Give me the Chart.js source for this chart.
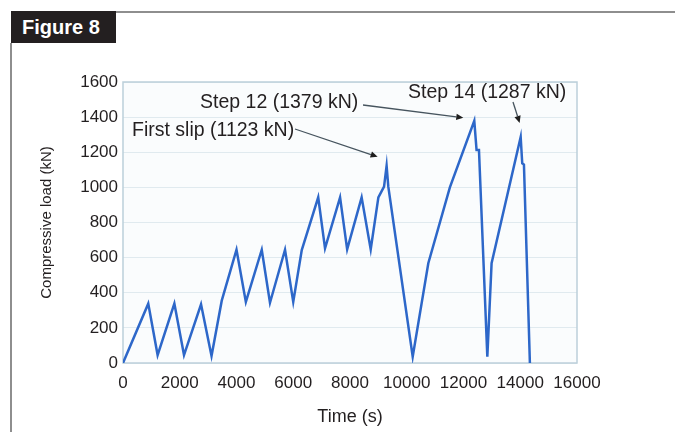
<!DOCTYPE html>
<html>
<head>
<meta charset="utf-8">
<script src="https://cdn.jsdelivr.net/npm/chart.js@4.4.1/dist/chart.umd.min.js"></script>
<style>
  html, body { margin: 0; padding: 0; background: #fff; }
  #wrap { position: relative; width: 675px; height: 432px; overflow: hidden; }
  #tag {
    position: absolute; left: 11px; top: 11px; width: 105px; height: 32px;
    background: #231f20; color: #fff; box-sizing: border-box; padding-left: 11px;
    font: bold 20px "Liberation Sans", Arial, sans-serif; line-height: 32px;
  }
  #ruleTop { position: absolute; left: 116px; top: 11px; right: 0; height: 2px; background: #8e8e8e; }
  #ruleLeft { position: absolute; left: 10px; top: 43px; bottom: 0; width: 2px; background: #8e8e8e; }
  #loadChart { position: absolute; left: 0; top: 0; }
</style>
</head>
<body>
<div id="wrap">
  <canvas id="loadChart" width="675" height="432"></canvas>
  <div id="ruleTop"></div>
  <div id="ruleLeft"></div>
  <div id="tag">Figure 8</div>
</div>
<script>
// load history of the bolted joint test
const timeS = [0, 890, 1220, 1810, 2150, 2750, 3120, 3480, 4000, 4330,
  4890, 5180, 5710, 6000, 6300, 6880, 7120, 7650, 7900, 8410,
  8730, 9000, 9200, 9290, 9350, 10210, 10760, 11520, 12380, 12460,
  12545, 12840, 12990, 14015, 14070, 14130, 14340];
const loadKN = [0, 338, 45, 338, 45, 334, 40, 355, 645, 348,
  645, 343, 645, 348, 643, 943, 653, 943, 647, 943,
  647, 943, 1004, 1123, 1004, 36, 568, 1000, 1379, 1213,
  1213, 36, 568, 1287, 1137, 1130, 0];

const xTicks = [0, 2000, 4000, 6000, 8000, 10000, 12000, 14000, 16000];
const yTicks = [0, 200, 400, 600, 800, 1000, 1200, 1400, 1600];

// labelled peaks (index into the series) and their captions
const noteIndex = [23, 28, 33];
const noteName = ["First slip", "Step 12", "Step 14"];

const FONT = '"Liberation Sans", Arial, sans-serif';
const INK = "#231f20";

// caption placement, leader start and arrow tip offset from the peak
const noteStyle = [
  { x: 132, y: 131, tail: [295, 129], tip: [-9, -9] },
  { x: 200, y: 103, tail: [363, 105], tip: [-11, -3] },
  { x: 408, y: 93, tail: [513, 102], tip: [-1, -14] }
];

const plotFrame = {
  id: "plotFrame",
  beforeDraw(chart) {
    const { ctx, chartArea: a } = chart;
    ctx.save();
    ctx.fillStyle = "#fafcfd";
    ctx.fillRect(a.left, a.top, a.right - a.left, a.bottom - a.top);
    ctx.restore();
  },
  beforeDatasetsDraw(chart) {
    const { ctx, chartArea: a } = chart;
    ctx.save();
    ctx.strokeStyle = "#bccfda";
    ctx.lineWidth = 1.5;
    ctx.strokeRect(a.left, a.top, a.right - a.left, a.bottom - a.top);
    ctx.restore();
  }
};

const peakNotes = {
  id: "peakNotes",
  afterDatasetsDraw(chart) {
    const { ctx, scales } = chart;
    ctx.save();
    ctx.font = "19.5px " + FONT;
    ctx.textBaseline = "middle";
    ctx.textAlign = "left";
    noteIndex.forEach((idx, i) => {
      const s = noteStyle[i];
      const px = scales.x.getPixelForValue(timeS[idx]);
      const py = scales.y.getPixelForValue(loadKN[idx]);
      const tx = px + s.tip[0], ty = py + s.tip[1];
      ctx.fillStyle = INK;
      ctx.fillText(noteName[i] + " (" + loadKN[idx] + " kN)", s.x, s.y);

      // leader line with a small arrow head
      const ang = Math.atan2(ty - s.tail[1], tx - s.tail[0]);
      const hl = 7, hw = 3.2;
      const bx = tx - hl * Math.cos(ang), by = ty - hl * Math.sin(ang);
      ctx.strokeStyle = "#46545e";
      ctx.lineWidth = 1.3;
      ctx.beginPath();
      ctx.moveTo(s.tail[0], s.tail[1]);
      ctx.lineTo(bx, by);
      ctx.stroke();
      ctx.fillStyle = "#1e1e1e";
      ctx.beginPath();
      ctx.moveTo(tx, ty);
      ctx.lineTo(bx - hw * Math.sin(ang), by + hw * Math.cos(ang));
      ctx.lineTo(bx + hw * Math.sin(ang), by - hw * Math.cos(ang));
      ctx.closePath();
      ctx.fill();
    });
    ctx.restore();
  }
};

new Chart(document.getElementById("loadChart"), {
  type: "line",
  data: {
    datasets: [{
      data: timeS.map((t, i) => ({ x: t, y: loadKN[i] })),
      borderColor: "#2d67c9",
      borderWidth: 2.5,
      pointRadius: 0,
      tension: 0,
      fill: false
    }]
  },
  options: {
    responsive: false,
    animation: false,
    events: [],
    layout: { padding: { top: 82, right: 98, bottom: 0, left: 0 } },
    plugins: { legend: { display: false }, tooltip: { enabled: false } },
    scales: {
      x: {
        type: "linear",
        min: 0,
        max: 16000,
        afterBuildTicks: (s) => { s.ticks = xTicks.map((v) => ({ value: v })); },
        afterFit: (s) => { s.height = 69; },
        ticks: {
          color: INK, font: { size: 17, family: FONT }, padding: 10,
          maxRotation: 0, autoSkip: false, callback: (v) => String(v)
        },
        grid: { display: false, drawTicks: false },
        border: { display: false },
        title: { display: true, text: "Time (s)", color: INK, font: { size: 18, family: FONT }, padding: { bottom: 4 } }
      },
      y: {
        min: 0,
        max: 1600,
        afterBuildTicks: (s) => { s.ticks = yTicks.map((v) => ({ value: v })); },
        afterFit: (s) => { s.width = 123; },
        ticks: { color: INK, font: { size: 17, family: FONT }, padding: 5, callback: (v) => String(v) },
        grid: { color: "#e0eaef", drawTicks: false },
        border: { display: false },
        title: { display: true, text: "Compressive load (kN)", color: INK, font: { size: 15, family: FONT }, padding: { top: 38 } }
      }
    }
  },
  plugins: [plotFrame, peakNotes]
});
</script>
</body>
</html>
